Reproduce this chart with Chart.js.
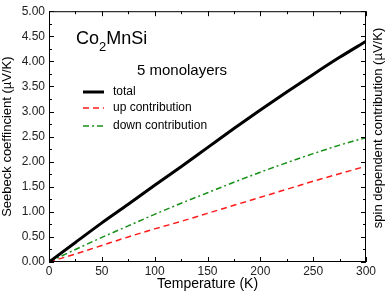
<!DOCTYPE html>
<html><head><meta charset="utf-8">
<script src="https://cdn.jsdelivr.net/npm/chart.js@4/dist/chart.umd.min.js"></script>
<style>html,body{margin:0;padding:0;background:#fff}#w{width:386px;height:294px}</style>
</head><body><div id="w"><canvas id="c" width="386" height="294"></canvas></div>
<script>
const temps = [0,25,50,75,100,125,150,175,200,225,250,275,300];
const total = [0,0.39,0.78,1.15,1.53,1.90,2.28,2.66,3.03,3.39,3.74,4.08,4.40];
const up    = [0,0.16,0.33,0.50,0.66,0.81,0.97,1.13,1.29,1.45,1.61,1.76,1.91];
const down  = [0,0.25,0.49,0.72,0.95,1.17,1.38,1.59,1.79,1.98,2.16,2.33,2.48];
const yTickLabels = ['0.00','0.50','1.00','1.50','2.00','2.50','3.00','3.50','4.00','4.50','5.00'];
const xTickLabels = ['0','50','100','150','200','250','300'];
const seriesNames = ['total','up contribution','down contribution'];
const rightTitle = 'spin dependent contribution (\u00b5V/K)';
const FONT = "'Liberation Sans', Arial, sans-serif";

const pts = arr => temps.map((t,i)=>({x:t,y:arr[i]}));

const deco = {
  id:'deco',
  afterDraw(ch){
    const c = ch.ctx, a = ch.chartArea, x = ch.scales.x, y = ch.scales.y;
    c.save();
    c.strokeStyle='#000'; c.lineWidth=1;
    c.strokeRect(a.left+0.5,a.top+0.5,a.right-a.left-1,a.bottom-a.top-1);
    c.beginPath();
    for(let v=0; v<=300; v+=25){
      const px=Math.round(x.getPixelForValue(v))+0.5, L = v%50===0?5:3;
      c.moveTo(px,a.bottom); c.lineTo(px,a.bottom-L);
      c.moveTo(px,a.top); c.lineTo(px,a.top+L);
    }
    for(let k=0;k<=20;k++){
      const v=k*0.25, py=Math.round(y.getPixelForValue(v))+0.5, L = k%2===0?5:3;
      c.moveTo(a.left,py); c.lineTo(a.left+L,py);
      c.moveTo(a.right,py); c.lineTo(a.right-L,py);
    }
    c.stroke();
    // right title, reading bottom-to-top
    c.save();
    c.translate(378,128);
    c.rotate(-Math.PI/2);
    c.font='13px '+FONT; c.textAlign='center'; c.textBaseline='middle'; c.fillStyle='#000';
    c.fillText(rightTitle,0,0);
    c.restore();
    // texts
    c.fillStyle='#000'; c.textBaseline='alphabetic'; c.textAlign='left';
    c.font='18px '+FONT;
    c.fillText('Co',76,44);
    let w=c.measureText('Co').width;
    c.font='13px '+FONT;
    c.fillText('2',76+w,51);
    let w2=c.measureText('2').width;
    c.font='18px '+FONT;
    c.fillText('MnSi',76+w+w2,44);
    c.font='15px '+FONT;
    c.fillText('5 monolayers',137,75);
    // legend
    const rows=[92,108,126];
    ch.data.datasets.forEach((ds,i)=>{
      c.beginPath();
      c.strokeStyle=ds.borderColor; c.lineWidth=ds.borderWidth;
      c.setLineDash(ds.borderDash||[]);
      c.moveTo(83,rows[i]); c.lineTo(104,rows[i]); c.stroke();
      c.setLineDash([]);
      c.fillStyle='#000'; c.font='12px '+FONT; c.textBaseline='middle';
      c.fillText(ds.label,113,rows[i]);
    });
    c.restore();
  }
};

new Chart(document.getElementById('c'),{
  type:'line',
  data:{datasets:[
    {label:seriesNames[0],data:pts(total),borderColor:'#000',borderWidth:3,pointRadius:0,cubicInterpolationMode:'monotone'},
    {label:seriesNames[1],data:pts(up),borderColor:'#ff1a1a',borderWidth:1.5,borderDash:[6,4],pointRadius:0,cubicInterpolationMode:'monotone'},
    {label:seriesNames[2],data:pts(down),borderColor:'#189018',borderWidth:1.5,borderDash:[6,3,2,3],pointRadius:0,cubicInterpolationMode:'monotone'}
  ]},
  options:{
    responsive:false,animation:false,
    layout:{padding:{top:6,right:0,left:0,bottom:0}},
    plugins:{legend:{display:false},tooltip:{enabled:false}},
    scales:{
      x:{type:'linear',min:0,max:300,
        afterBuildTicks(s){s.ticks=xTickLabels.map(v=>({value:+v}));},
        ticks:{color:'#222',font:{family:FONT,size:12},padding:2,maxRotation:0,callback:(v)=>String(v)},
        grid:{display:false,drawTicks:false},border:{display:false},
        title:{display:true,text:'Temperature (K)',color:'#000',font:{family:FONT,size:14},padding:{top:0,bottom:1}},
        afterFit(s){s.height=32;}
      },
      y:{type:'linear',min:0,max:5,position:'left',
        afterBuildTicks(s){s.ticks=yTickLabels.map(v=>({value:+v}));},
        ticks:{color:'#222',font:{family:FONT,size:12},padding:4,callback:(v)=>v.toFixed(2)},
        grid:{display:false,drawTicks:false},border:{display:false},
        title:{display:true,text:'Seebeck coeffincient (\u00b5V/K)',color:'#000',font:{family:FONT,size:13},padding:{top:0,bottom:0}},
        afterFit(s){s.width=49;}
      },
      y2:{type:'linear',min:0,max:5,position:'right',
        ticks:{display:false},grid:{display:false,drawTicks:false},border:{display:false},
        title:{display:false},
        afterFit(s){s.width=20;}
      }
    }
  },
  plugins:[deco]
});
</script></body></html>
